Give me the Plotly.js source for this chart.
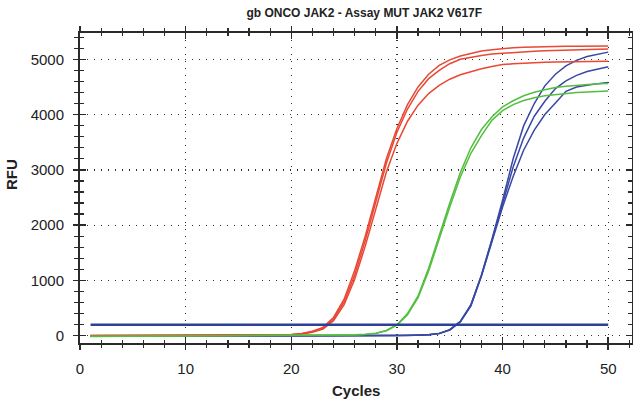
<!DOCTYPE html>
<html>
<head>
<meta charset="utf-8">
<script src="https://cdn.plot.ly/plotly-3.0.1.min.js"></script>
<style>html,body{margin:0;padding:0;background:#fff;}#chart{width:633px;height:399px;}</style>
</head>
<body>
<div id="chart"></div>
<script>
const cycles = [1,2,3,4,5,6,7,8,9,10,11,12,13,14,15,16,17,18,19,20,21,22,23,24,25,26,27,28,29,30,31,32,33,34,35,36,37,38,39,40,41,42,43,44,45,46,47,48,49,50];

const red1 = [2,3,2,4,3,5,4,3,5,6,5,4,6,7,8,9,10,12,15,20,40,80,150,330,660,1180,1800,2500,3200,3750,4180,4500,4730,4890,4990,5060,5110,5150,5175,5195,5208,5218,5225,5230,5233,5236,5238,5239,5240,5240];
const red2 = [1,2,3,2,4,3,5,4,4,5,6,5,5,6,7,8,9,11,13,18,35,72,135,300,610,1100,1720,2420,3120,3680,4100,4420,4650,4800,4920,5000,5040,5070,5094,5110,5125,5138,5148,5157,5164,5170,5175,5179,5182,5185];
const red3 = [2,1,3,3,2,4,4,5,3,4,5,6,5,6,6,7,8,10,12,15,30,62,120,270,560,1020,1620,2300,2960,3480,3880,4170,4380,4530,4640,4720,4780,4830,4870,4905,4920,4932,4940,4946,4951,4955,4958,4961,4963,4965];

const green1 = [-12,-10,-8,-7,-6,-5,-5,-4,-3,-3,-2,-2,-1,-1,0,0,1,1,2,2,3,4,5,7,10,15,25,45,95,200,400,720,1220,1820,2400,2950,3400,3730,3960,4140,4250,4340,4405,4450,4490,4512,4530,4545,4556,4564];
const green2 = [-14,-11,-9,-8,-7,-6,-5,-4,-4,-3,-3,-2,-2,-1,-1,0,0,1,1,2,3,3,4,6,9,13,22,42,90,190,380,690,1170,1760,2330,2870,3300,3620,3900,4070,4180,4255,4305,4340,4362,4380,4398,4410,4419,4425];

const blue1 = [-8,-8,-7,-7,-6,-6,-6,-5,-5,-5,-5,-4,-4,-4,-4,-4,-3,-3,-3,-3,-3,-2,-2,-2,-2,-1,-1,0,1,3,6,10,18,42,110,260,560,1100,1750,2450,3200,3800,4200,4520,4730,4880,4980,5050,5095,5130];
const blue2 = [-9,-8,-8,-7,-7,-6,-6,-6,-5,-5,-5,-5,-4,-4,-4,-4,-3,-3,-3,-3,-3,-2,-2,-2,-2,-1,-1,0,1,2,5,9,17,40,106,255,550,1090,1730,2400,3050,3580,3970,4240,4470,4610,4710,4780,4830,4867];
const blue3 = [-9,-9,-8,-8,-7,-7,-6,-6,-6,-5,-5,-5,-5,-4,-4,-4,-4,-3,-3,-3,-3,-2,-2,-2,-2,-1,-1,0,1,2,5,9,16,38,102,250,540,1080,1710,2330,2880,3360,3720,4000,4210,4420,4500,4535,4560,4580];

const thresholdX = [1, 50];
const thresholdY = [200, 200];

const xTickVals = [0,10,20,30,40,50];
const yTickVals = [0,1000,2000,3000,4000,5000];

const titleText = "gb ONCO JAK2 - Assay MUT JAK2 V617F";
const xTitle = "Cycles";
const yTitle = "RFU";

const RED = "rgb(232,72,52)";
const GREEN = "rgb(84,190,64)";
const BLUE = "rgb(56,72,164)";
const THR = "rgb(44,64,152)";

function line(y, color){
  return {x: cycles, y: y, type: "scatter", mode: "lines", line: {color: color, width: 1.5}, hoverinfo: "skip", showlegend: false};
}

const traces = [
  line(blue1, BLUE), line(blue2, BLUE), line(blue3, BLUE),
  line(red1, RED), line(red2, RED), line(red3, RED),
  line(green1, GREEN), line(green2, GREEN),
  {x: thresholdX, y: thresholdY, type: "scatter", mode: "lines", line: {color: THR, width: 2.5}, hoverinfo: "skip", showlegend: false},
  {x: [0], y: [0], xaxis: "x2", yaxis: "y2", type: "scatter", mode: "markers", marker: {opacity: 0}, hoverinfo: "skip", showlegend: false}
];

const FONT = "Liberation Sans, Arial, sans-serif";
const XR = [0, 52.25];
const YR = [-132, 5476];
const AX = "#2a2a2a";

const layout = {
  width: 633, height: 399,
  margin: {l: 80, r: 1, t: 33, b: 56},
  paper_bgcolor: "#fff", plot_bgcolor: "#fff",
  showlegend: false,
  font: {family: FONT, size: 15, color: "#222"},
  title: {text: titleText, x: 0.515, xref: "paper", xanchor: "center", y: 0.967, yref: "container", yanchor: "middle",
          font: {family: FONT, size: 12, weight: "bold", color: "#222"}},
  xaxis: {
    range: XR, tickvals: xTickVals, ticks: "outside", ticklen: 5, tickwidth: 1.5, tickcolor: AX,
    showline: true, linewidth: 2, linecolor: AX, mirror: "allticks",
    showgrid: true, gridcolor: "#333", gridwidth: 1.3, griddash: "1px,6px", zeroline: false,
    minor: {dtick: 2, tick0: 0, ticks: "outside", ticklen: 3, tickwidth: 1.2, tickcolor: AX, showgrid: false},
    tickfont: {family: FONT, size: 15, color: "#222"}, ticklabelstandoff: 6, fixedrange: true
  },
  yaxis: {
    range: YR, tickvals: yTickVals, ticks: "outside", ticklen: 5, tickwidth: 1.5, tickcolor: AX,
    showline: true, linewidth: 2, linecolor: AX, mirror: "allticks",
    showgrid: true, gridcolor: "#333", gridwidth: 1.3, griddash: "1px,6px", zeroline: false,
    minor: {dtick: 200, tick0: 0, ticks: "outside", ticklen: 4, tickwidth: 1.2, tickcolor: AX, showgrid: false},
    tickfont: {family: FONT, size: 15, color: "#222"}, ticklabelstandoff: 6, fixedrange: true
  },
  xaxis2: {
    range: XR, overlaying: "x", anchor: "y2", side: "bottom", tickvals: xTickVals, ticks: "inside", ticklen: 6, tickwidth: 1.5, tickcolor: AX,
    showline: true, linewidth: 2, linecolor: AX, mirror: "allticks", showticklabels: false, showgrid: false, zeroline: false,
    minor: {dtick: 2, tick0: 0, ticks: "inside", ticklen: 3, tickwidth: 1.2, tickcolor: AX, showgrid: false}, fixedrange: true
  },
  yaxis2: {
    range: YR, overlaying: "y", anchor: "x2", side: "left", tickvals: yTickVals, ticks: "inside", ticklen: 6, tickwidth: 1.5, tickcolor: AX,
    showline: true, linewidth: 2, linecolor: AX, mirror: "allticks", showticklabels: false, showgrid: false, zeroline: false,
    minor: {dtick: 200, tick0: 0, ticks: "inside", ticklen: 4, tickwidth: 1.2, tickcolor: AX, showgrid: false}, fixedrange: true
  },
  annotations: [
    {text: yTitle, xref: "paper", yref: "paper", x: -0.123, y: 0.542, xanchor: "center", yanchor: "middle", textangle: -90, showarrow: false,
     font: {family: FONT, size: 15, weight: "bold", color: "#222"}},
    {text: xTitle, xref: "paper", yref: "paper", x: 0.5, y: -0.152, xanchor: "center", yanchor: "middle", showarrow: false,
     font: {family: FONT, size: 15, weight: "bold", color: "#222"}}
  ]
};

Plotly.newPlot("chart", traces, layout, {staticPlot: true, displayModeBar: false});
</script>
</body>
</html>
